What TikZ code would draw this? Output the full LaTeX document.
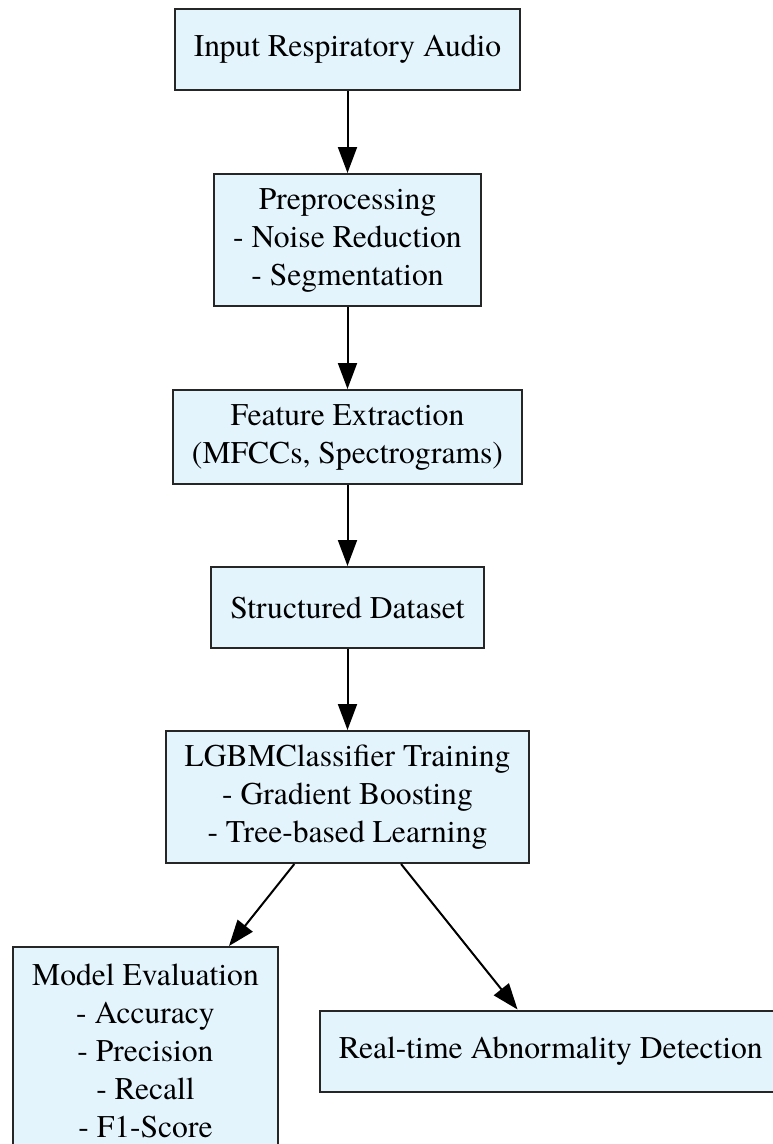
\documentclass[tikz,border=0pt]{standalone}
\usepackage{fontspec}
\setmainfont{TeX Gyre Termes}
\usepackage{tikz}
\usetikzlibrary{positioning,arrows.meta}

\definecolor{boxblue}{HTML}{E3F4FD}
\tikzset{stage/.style={draw=black!85, line width=2pt, fill=boxblue, align=center,
    inner xsep=19pt, inner ysep=9pt, minimum height=81pt,
    font=\fontsize{31.6}{38}\selectfont}}

\begin{document}
\begin{tikzpicture}[x=1pt, y=1pt, node distance=82pt, line width=2pt,
    >={Triangle[length=26pt,width=19pt]}]
         \fill[white] (0,0) rectangle (772,-1144);
         \useasboundingbox (0,0) rectangle (772,-1144);
         \node[stage] (input) at (347.5,-49.5) {Input Respiratory Audio};  %top of the pipeline
         \node[stage, minimum height=132pt] (prep) [below=of input] {Preprocessing\\- Noise Reduction\\- Segmentation};
         \node[stage, minimum height=94pt] (feat) [below=of prep] {Feature Extraction\\(MFCCs, Spectrograms)};
         \node[stage] (data) [below=81pt of feat] {Structured Dataset};
         \node[stage, minimum height=132pt] (train) [below=81pt of data] {LGBMClassifier Training\\- Gradient Boosting\\- Tree-based Learning};
         \node[stage, minimum height=208pt] (eval) [below=82pt of train, xshift=-202pt] {Model Evaluation\\- Accuracy\\- Precision\\- Recall\\- F1-Score};
         \node[stage] (detect) [right=40pt of eval] {Real-time Abnormality Detection};

         \path[->]
         (input) edge (prep)
         (prep) edge (feat)
         (feat) edge (data)
         (data) edge (train)
         (train) edge (eval)
         (train) edge (detect);
       \end{tikzpicture}
\end{document}
